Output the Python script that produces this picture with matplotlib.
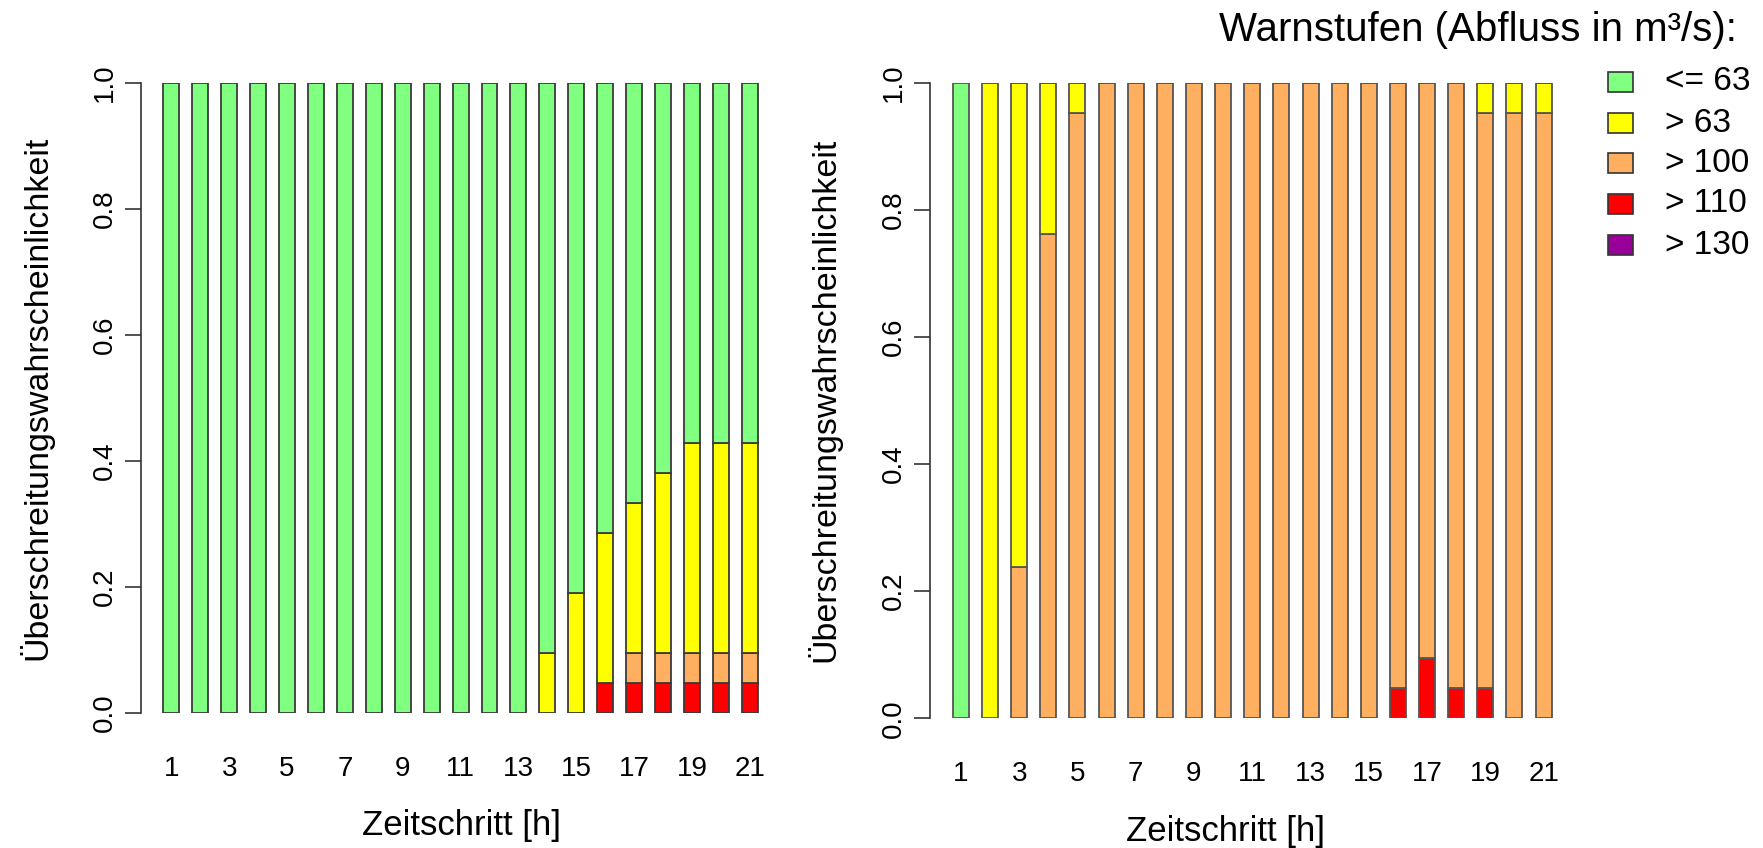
import numpy as np
import matplotlib
matplotlib.use("Agg")
import matplotlib.pyplot as plt
from matplotlib.patches import Rectangle

plt.rcParams['font.family'] = ['Liberation Sans', 'DejaVu Sans']

# =========================
# DATA
# =========================
steps = np.arange(1, 22)

# exceedance probabilities per threshold, left run
left_p63 = [0, 0, 0, 0, 0, 0, 0, 0, 0, 0, 0, 0, 0,
            0.095, 0.19, 0.286, 0.333, 0.381, 0.429, 0.429, 0.429]
left_p100 = [0, 0, 0, 0, 0, 0, 0, 0, 0, 0, 0, 0, 0,
             0, 0, 0.048, 0.095, 0.095, 0.095, 0.095, 0.095]
left_p110 = [0, 0, 0, 0, 0, 0, 0, 0, 0, 0, 0, 0, 0,
             0, 0, 0.048, 0.048, 0.048, 0.048, 0.048, 0.048]
left_p130 = [0] * 21

# right run
right_p63 = [0] + [1.0] * 20
right_p100 = [0, 0, 0.238, 0.762, 0.952, 1, 1, 1, 1, 1, 1, 1, 1, 1, 1,
              1, 1, 1, 0.952, 0.952, 0.952]
right_p110 = [0, 0, 0, 0, 0, 0, 0, 0, 0, 0, 0, 0, 0, 0, 0,
              0.048, 0.095, 0.048, 0.048, 0, 0]
right_p130 = [0] * 21

level_labels = ["<= 63", "> 63", "> 100", "> 110", "> 130"]
level_colors = ["#80FF80", "#FFFF00", "#FFAF60", "#FF0000", "#990099"]

xtick_pos = list(range(1, 22, 2))

# =========================
# FIGURE
# =========================
W, H = 1763, 848
fig = plt.figure(figsize=(W / 100, H / 100), dpi=100)


def px_axes(x0, x1, y_top, y_bot):
    return [x0 / W, (H - y_bot) / H, (x1 - x0) / W, (y_bot - y_top) / H]


def stacked(ax, p63, p100, p110, p130, edge):
    p63, p100, p110, p130 = map(np.asarray, (p63, p100, p110, p130))
    # segments from bottom: >130, >110, >100, >63, <=63
    segs = [p130, p110 - p130, p100 - p110, p63 - p100, 1 - p63]
    cols = [level_colors[4], level_colors[3], level_colors[2],
            level_colors[1], level_colors[0]]
    bottom = np.zeros(len(steps))
    for h, c in zip(segs, cols):
        ax.bar(steps, h, bottom=bottom, width=0.55, color=c,
               edgecolor=edge, linewidth=1.3)
        bottom = bottom + h


def style(ax, xlim_left):
    ax.set_xlim(xlim_left, 21.7)
    ax.set_ylim(0, 1)
    for s in ("top", "right", "bottom"):
        ax.spines[s].set_visible(False)
    ax.spines["left"].set_bounds(0, 1)
    ax.spines["left"].set_color("#333333")
    ax.spines["left"].set_linewidth(1.2)
    ax.set_yticks([0, 0.2, 0.4, 0.6, 0.8, 1.0])
    ax.set_yticklabels(["0.0", "0.2", "0.4", "0.6", "0.8", "1.0"])
    ax.tick_params(axis="y", length=11.5, width=1.2, color="#333333",
                   labelsize=20, pad=5)
    for lbl in ax.get_yticklabels():
        lbl.set_rotation(90)
        lbl.set_va("center")
    ax.set_xticks(xtick_pos)
    ax.set_xticklabels([str(v) for v in xtick_pos])
    ax.tick_params(axis="x", length=0, labelsize=20, pad=31)
    ax.patch.set_visible(False)


# LEFT
ax1 = fig.add_axes(px_axes(140.7, 770, 82.7, 713))
stacked(ax1, left_p63, left_p100, left_p110, left_p130, "#3a3a3a")
style(ax1, -0.06)
fig.text(461 / W, 1 - 826 / H, "Zeitschritt [h]", ha="center", va="center",
         fontsize=25)
fig.text(36 / W, 1 - 398 / H, "Überschreitungswahrscheinlichkeit",
         rotation=90, ha="center", va="center", fontsize=24.5)

# RIGHT
ax2 = fig.add_axes(px_axes(930, 1564, 83, 718.3))
stacked(ax2, right_p63, right_p100, right_p110, right_p130, "#555555")
style(ax2, -0.06)
fig.text(1226 / W, 1 - 832 / H, "Zeitschritt [h]", ha="center", va="center",
         fontsize=25)
fig.text(824 / W, 1 - 400 / H, "Überschreitungswahrscheinlichkeit",
         rotation=90, ha="center", va="center", fontsize=24.5)

# LEGEND
fig.text(1737 / W, 1 - 30 / H, "Warnstufen (Abfluss in m³/s):",
         ha="right", va="center", fontsize=29)
row_y = [82, 123, 163, 204, 245]
for lab, col, yc in zip(level_labels, level_colors, row_y):
    fig.patches.append(Rectangle((1608 / W, 1 - (yc + 10) / H), 25 / W, 20 / H,
                                 transform=fig.transFigure, facecolor=col,
                                 edgecolor="#333333", linewidth=1.2))
    fig.text(1665 / W, 1 - yc / H, lab, ha="left", va="center", fontsize=24)

fig.savefig("out.png", dpi=100)
